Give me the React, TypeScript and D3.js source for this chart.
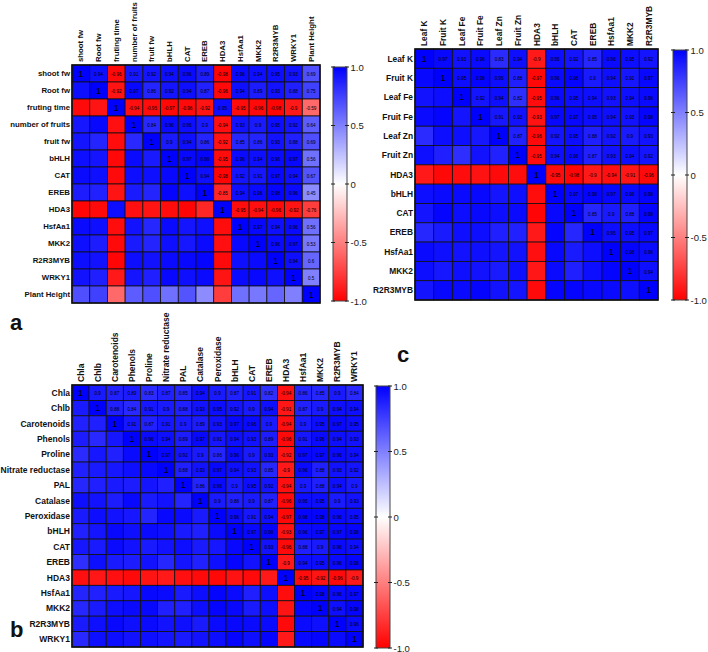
import React from 'react';
import * as d3 from 'd3';

// ---------- Panel a ----------
const varsA = ['shoot fw', 'Root fw', 'fruting time', 'number of fruits', 'fruit fw', 'bHLH', 'CAT', 'EREB', 'HDA3', 'HsfAa1', 'MKK2', 'R2R3MYB', 'WRKY1', 'Plant Height'];
const corrA = [
  [1, 0.94, -0.96, 0.91, 0.92, 0.94, 0.96, 0.89, -0.98, 0.96, 0.94, 0.95, 0.93, 0.69],
  [1, -0.92, 0.97, 0.86, 0.92, 0.94, 0.87, -0.96, 0.94, 0.89, 0.93, 0.88, 0.75],
  [1, -0.94, -0.95, -0.97, -0.96, -0.92, 0.95, -0.95, -0.96, -0.98, -0.9, -0.59],
  [1, 0.84, 0.96, 0.95, 0.9, -0.94, 0.93, 0.9, 0.95, 0.92, 0.64],
  [1, 0.9, 0.94, 0.86, -0.92, 0.85, 0.86, 0.93, 0.88, 0.69],
  [1, 0.97, 0.98, -0.95, 0.96, 0.94, 0.96, 0.97, 0.56],
  [1, 0.94, -0.98, 0.92, 0.91, 0.97, 0.94, 0.67],
  [1, -0.85, 0.94, 0.96, 0.98, 0.96, 0.45],
  [1, -0.95, -0.94, -0.96, -0.92, -0.76],
  [1, 0.97, 0.94, 0.96, 0.56],
  [1, 0.96, 0.97, 0.53],
  [1, 0.94, 0.6],
  [1, 0.5],
  [1],
];

// ---------- Panel c ----------
const varsC = ['Leaf K', 'Fruit K', 'Leaf Fe', 'Fruit Fe', 'Leaf Zn', 'Fruit Zn', 'HDA3', 'bHLH', 'CAT', 'EREB', 'HsfAa1', 'MKK2', 'R2R3MYB'];
const corrC = [
  [1, 0.97, 0.93, 0.96, 0.83, 0.94, -0.9, 0.95, 0.92, 0.85, 0.96, 0.95, 0.92],
  [1, 0.95, 0.98, 0.95, 0.88, -0.97, 0.96, 0.98, 0.9, 0.94, 0.91, 0.97],
  [1, 0.92, 0.94, 0.82, -0.95, 0.96, 0.95, 0.94, 0.93, 0.94, 0.96],
  [1, 0.91, 0.93, -0.93, 0.97, 0.97, 0.95, 0.94, 0.93, 0.98],
  [1, 0.87, -0.96, 0.92, 0.95, 0.88, 0.92, 0.9, 0.93],
  [1, -0.95, 0.94, 0.96, 0.87, 0.93, 0.94, 0.92],
  [1, -0.95, -0.98, -0.9, -0.94, -0.91, -0.96],
  [1, 0.97, 0.98, 0.97, 0.96, 0.98],
  [1, 0.85, 0.9, 0.88, 0.98],
  [1, 0.95, 0.95, 0.97],
  [1, 0.98, 0.96],
  [1, 0.94],
  [1],
];

// ---------- Panel b ----------
const varsB = ['Chla', 'Chlb', 'Carotenoids', 'Phenols', 'Proline', 'Nitrate reductase', 'PAL', 'Catalase', 'Peroxidase', 'bHLH', 'CAT', 'EREB', 'HDA3', 'HsfAa1', 'MKK2', 'R2R3MYB', 'WRKY1'];
const corrB = [
  [1, 0.9, 0.87, 0.89, 0.83, 0.87, 0.85, 0.94, 0.9, 0.87, 0.91, 0.82, -0.94, 0.86, 0.85, 0.9, 0.84],
  [1, 0.88, 0.84, 0.91, 0.9, 0.88, 0.93, 0.95, 0.92, 0.9, 0.94, -0.91, 0.87, 0.9, 0.94, 0.94],
  [1, 0.91, 0.87, 0.91, 0.9, 0.89, 0.93, 0.97, 0.96, 0.9, -0.94, 0.9, 0.95, 0.97, 0.95],
  [1, 0.96, 0.94, 0.89, 0.97, 0.91, 0.94, 0.93, 0.89, -0.96, 0.91, 0.96, 0.94, 0.93],
  [1, 0.97, 0.92, 0.9, 0.86, 0.96, 0.9, 0.93, -0.92, 0.97, 0.97, 0.96, 0.94],
  [1, 0.88, 0.93, 0.97, 0.94, 0.93, 0.85, -0.9, 0.96, 0.88, 0.93, 0.92],
  [1, 0.86, 0.96, 0.9, 0.95, 0.92, -0.94, 0.9, 0.88, 0.94, 0.9],
  [1, 0.9, 0.88, 0.9, 0.87, -0.96, 0.95, 0.95, 0.9, 0.93],
  [1, 0.96, 0.91, 0.94, -0.97, 0.98, 0.98, 0.96, 0.95],
  [1, 0.97, 0.98, -0.93, 0.96, 0.97, 0.97, 0.98],
  [1, 0.93, -0.96, 0.88, 0.9, 0.96, 0.94],
  [1, -0.9, 0.94, 0.95, 0.96, 0.98],
  [1, -0.95, -0.92, -0.96, -0.9],
  [1, 0.98, 0.96, 0.97],
  [1, 0.94, 0.98],
  [1, 0.96],
  [1],
];

const colorbarTicks = [1, 0.5, 0, -0.5, -1];

const FONT = '"Liberation Sans", Arial, sans-serif';
const color = d3
  .scaleLinear<string>()
  .domain([-1, 0, 1])
  .range(['#ff0000', '#ffffff', '#0000ff'])
  .interpolate(d3.interpolateRgb);

const fmtVal = (v: number) => (v === 1 ? '1' : String(v));
const fmtTick = (v: number) => (v === 0 ? '0' : v.toFixed(1));

function Heatmap({ labels, upper, x0, y0, w, h, labelSize, valueSize, oneSize }: any) {
  const xs = d3.scaleBand<string>().domain(labels).range([x0, x0 + w]);
  const ys = d3.scaleBand<string>().domain(labels).range([y0, y0 + h]);
  const bw = xs.bandwidth();
  const bh = ys.bandwidth();
  const n = labels.length;
  const val = (i: number, j: number) => (i <= j ? upper[i][j - i] : upper[j][i - j]);
  const cells: any[] = [];
  for (let i = 0; i < n; i++) {
    for (let j = 0; j < n; j++) {
      const v = val(i, j);
      const cx = xs(labels[j])!;
      const cy = ys(labels[i])!;
      cells.push(
        <rect key={`r${i}-${j}`} x={cx} y={cy} width={bw} height={bh} fill={color(v)} stroke="#111" strokeWidth={0.8} />
      );
      if (j >= i) {
        cells.push(
          <text
            key={`t${i}-${j}`}
            x={cx + bw / 2}
            y={cy + bh / 2 + (i === j ? 0 : 1)}
            textAnchor="middle"
            dominantBaseline="central"
            fontSize={i === j ? oneSize : valueSize}
            fill="#000"
          >
            {fmtVal(v)}
          </text>
        );
      }
    }
  }
  return (
    <g fontFamily={FONT}>
      {cells}
      <rect x={x0} y={y0} width={w} height={h} fill="none" stroke="#111" strokeWidth={1.6} />
      {labels.map((l: string) => (
        <text
          key={`rl${l}`}
          x={x0 - 2}
          y={ys(l)! + bh / 2}
          textAnchor="end"
          dominantBaseline="central"
          fontSize={labelSize}
          fontWeight="bold"
          fill="#111"
        >
          {l}
        </text>
      ))}
      {labels.map((l: string) => (
        <text
          key={`cl${l}`}
          transform={`translate(${xs(l)! + bw / 2},${y0 - 3}) rotate(-90)`}
          textAnchor="start"
          dominantBaseline="central"
          fontSize={labelSize}
          fontWeight="bold"
          fill="#111"
        >
          {l}
        </text>
      ))}
    </g>
  );
}

function ColorBar({ id, x, y, w, h }: any) {
  const s = d3.scaleLinear().domain([-1, 1]).range([y + h, y]);
  return (
    <g fontFamily={FONT}>
      <defs>
        <linearGradient id={id} x1="0" y1="1" x2="0" y2="0">
          <stop offset="0%" stopColor={color(-1)} />
          <stop offset="50%" stopColor={color(0)} />
          <stop offset="100%" stopColor={color(1)} />
        </linearGradient>
      </defs>
      <rect x={x} y={y} width={w} height={h} fill={`url(#${id})`} stroke="#444" strokeWidth={1} />
      {colorbarTicks.map((t) => (
        <g key={t}>
          <line x1={x - 2} x2={x + 2} y1={s(t)} y2={s(t)} stroke="#222" strokeWidth={1} />
          <line x1={x + w - 2} x2={x + w + 2} y1={s(t)} y2={s(t)} stroke="#222" strokeWidth={1} />
          <text x={x + w + 3.5} y={s(t)} dominantBaseline="central" fontSize={9.5} fill="#222">
            {fmtTick(t)}
          </text>
        </g>
      ))}
    </g>
  );
}

export default function App() {
  return (
    <svg
      width={708}
      height={652}
      style={{ position: 'absolute', left: 0, top: 0, background: '#fff' }}
    >
      <rect x={0} y={0} width={708} height={652} fill="#fff" />
      <Heatmap labels={varsA} upper={corrA} x0={72} y0={65} w={248} h={238} labelSize={7.8} valueSize={4.6} oneSize={9} />
      <ColorBar id="cbA" x={333} y={67} w={14} h={234} />
      <Heatmap labels={varsC} upper={corrC} x0={415} y0={49} w={243} h={251} labelSize={8.4} valueSize={4.6} oneSize={9} />
      <ColorBar id="cbC" x={673} y={50} w={14} h={250} />
      <Heatmap labels={varsB} upper={corrB} x0={72} y0={385} w={291} h={262} labelSize={8.5} valueSize={4.6} oneSize={9} />
      <ColorBar id="cbB" x={376} y={386} w={14} h={262} />
      <text x={10} y={330} fontFamily={FONT} fontWeight="bold" fontSize={22} fill="#111">a</text>
      <text x={397} y={362} fontFamily={FONT} fontWeight="bold" fontSize={22} fill="#111">c</text>
      <text x={10} y={637} fontFamily={FONT} fontWeight="bold" fontSize={22} fill="#111">b</text>
    </svg>
  );
}
